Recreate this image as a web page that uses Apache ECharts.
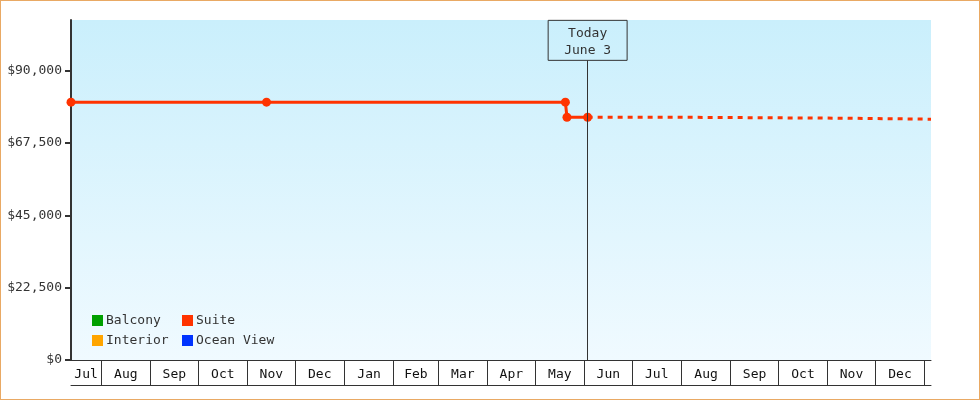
<!DOCTYPE html>
<html>
<head>
<meta charset="utf-8">
<script src="https://cdn.jsdelivr.net/npm/echarts@6/dist/echarts.min.js"></script>
<style>
  html, body { margin: 0; padding: 0; background: #fff; }
  #wrap { position: relative; width: 980px; height: 400px; }
  #chart { width: 980px; height: 400px; }
  #frame { position: absolute; left: 0; top: 0; width: 978px; height: 398px;
           border: 1px solid #e9a964; pointer-events: none; }
</style>
</head>
<body>
<div id="wrap">
  <div id="chart"></div>
  <div id="frame"></div>
</div>
<script>
// data
const seriesNames = ['Balcony', 'Interior', 'Suite', 'Ocean View'];
const seriesColors = ['#00a000', '#ffa500', '#ff3300', '#0033ff'];

const suiteDates = ['2024-07-13', '2024-11-13', '2025-05-20', '2025-05-21', '2025-06-03'];
const suitePrices = [80200, 80200, 80200, 75500, 75500];

const forecastDates = ['2025-06-03', '2025-08-01', '2025-11-13', '2026-01-05'];
const forecastPrices = [75500, 75200, 74900, 74900];

const axisStart = '2024-07-13';
const axisEnd = '2026-01-05';
const monthStarts = ['2024-08-01', '2024-09-01', '2024-10-01', '2024-11-01', '2024-12-01',
  '2025-01-01', '2025-02-01', '2025-03-01', '2025-04-01', '2025-05-01', '2025-06-01',
  '2025-07-01', '2025-08-01', '2025-09-01', '2025-10-01', '2025-11-01', '2025-12-01',
  '2026-01-01'];
const monthLabels = ['Jul', 'Aug', 'Sep', 'Oct', 'Nov', 'Dec', 'Jan', 'Feb', 'Mar', 'Apr',
  'May', 'Jun', 'Jul', 'Aug', 'Sep', 'Oct', 'Nov', 'Dec'];

const priceTicks = [0, 22500, 45000, 67500, 90000];
const priceMax = 105750;

const todayDate = '2025-06-03';
const todayLabel = 'Today\nJune 3';

const ts = s => +new Date(s + 'T00:00:00');
const font = 'DejaVu Sans Mono';

// month cells: label sits in the middle of each cell
const edges = [ts(axisStart), ...monthStarts.map(ts)];
const labelPos = [];
const labelText = {};
for (let i = 0; i < monthLabels.length; i++) {
  const mid = Math.round((edges[i] + edges[i + 1]) / 2);
  labelPos.push(mid);
  labelText[mid] = monthLabels[i];
}

const chart = echarts.init(document.getElementById('chart'));

const timeAxis = {
  type: 'value',
  min: ts(axisStart),
  max: ts(axisEnd),
  scale: true,
  splitLine: { show: false }
};

const legendBase = {
  orient: 'vertical', top: 314,
  itemWidth: 11, itemHeight: 11, itemGap: 7, icon: 'rect', padding: 0,
  textStyle: { fontFamily: font, fontSize: 13, color: '#333', padding: [0, 0, 0, -2] }
};

const option = {
  animation: false,
  textStyle: { fontFamily: font },
  grid: {
    left: 71, right: 49, top: 20, bottom: 40,
    show: true,
    borderWidth: 0,
    backgroundColor: new echarts.graphic.LinearGradient(0, 0, 0, 1, [
      { offset: 0, color: '#caeffc' },
      { offset: 1, color: '#f0faff' }
    ])
  },
  legend: [
    Object.assign({ data: ['Balcony', 'Interior'], left: 92 }, legendBase),
    Object.assign({ data: ['Suite', 'Ocean View'], left: 182 }, legendBase)
  ],
  xAxis: [
    Object.assign({}, timeAxis, {
      axisLine: { lineStyle: { color: '#333', width: 1 } },
      axisTick: {
        customValues: monthStarts.map(ts),
        length: 25,
        lineStyle: { color: '#333', width: 1 }
      },
      axisLabel: {
        customValues: labelPos,
        formatter: v => labelText[v] || '',
        margin: 7,
        fontFamily: font,
        fontSize: 13,
        lineHeight: 15,
        color: '#111',
        hideOverlap: false
      }
    }),
    Object.assign({}, timeAxis, {
      position: 'bottom',
      offset: 25,
      axisLine: { show: true, lineStyle: { color: '#333', width: 1 } },
      axisTick: { show: false },
      axisLabel: { show: false }
    })
  ],
  yAxis: {
    type: 'value',
    min: 0,
    max: priceMax,
    interval: 22500,
    splitLine: { show: false },
    axisLine: { show: true, lineStyle: { color: '#333', width: 2 } },
    axisTick: {
      show: true,
      customValues: priceTicks,
      length: 6,
      lineStyle: { color: '#333', width: 2 }
    },
    axisLabel: {
      customValues: priceTicks,
      margin: 9,
      fontFamily: font,
      fontSize: 13,
      color: '#333',
      formatter: v => '$' + v.toLocaleString('en-US')
    }
  },
  series: [
    { name: 'Balcony', type: 'line', data: [], color: seriesColors[0] },
    { name: 'Interior', type: 'line', data: [], color: seriesColors[1] },
    {
      name: 'Suite',
      type: 'line',
      color: seriesColors[2],
      data: suiteDates.map((d, i) => [ts(d), suitePrices[i]]),
      symbol: 'circle',
      symbolSize: 9,
      lineStyle: { width: 3 },
      z: 3,
      markLine: {
        silent: true,
        symbol: 'none',
        lineStyle: { color: '#333', width: 1, type: 'solid' },
        label: {
          show: true,
          position: 'end',
          distance: 0,
          formatter: todayLabel,
          fontFamily: font,
          fontSize: 13,
          lineHeight: 17,
          color: '#333',
          align: 'center',
          borderColor: '#333',
          borderWidth: 1,
          padding: [5, 16, 1, 16]
        },
        data: [[
          { coord: [ts(todayDate), 0] },
          { coord: [ts(todayDate), 93200] }
        ]]
      }
    },
    {
      name: 'Suite',
      type: 'line',
      color: seriesColors[2],
      data: forecastDates.map((d, i) => [ts(d), forecastPrices[i]]),
      step: 'end',
      symbol: 'none',
      lineStyle: { width: 3, type: [5, 5] },
      z: 2
    },
    { name: 'Ocean View', type: 'line', data: [], color: seriesColors[3] }
  ]
};

chart.setOption(option);
</script>
</body>
</html>
